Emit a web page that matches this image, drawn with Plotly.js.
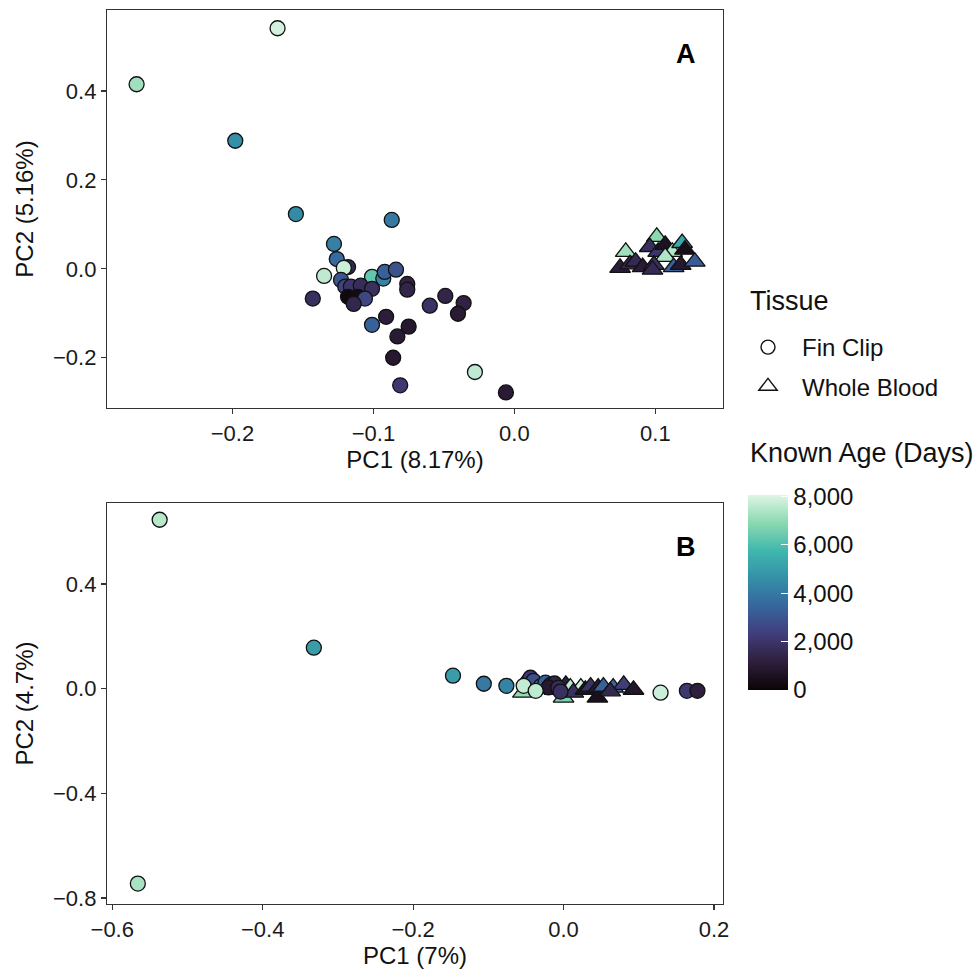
<!DOCTYPE html>
<html>
<head>
<meta charset="utf-8">
<script src="https://cdn.plot.ly/plotly-3.0.1.min.js"></script>
<style>html,body{margin:0;padding:0;background:#fff;}#chart{width:977px;height:969px;}</style>
</head>
<body>
<div id="chart"></div>
<script>
// ---------- Panel A data (PC1 8.17%, PC2 5.16%) ----------
const aFinPC1 = [-0.268,-0.168,-0.198,-0.155,-0.087,-0.128,-0.126,-0.135,-0.118,-0.121,-0.101,-0.093,-0.092,-0.084,-0.123,-0.120,-0.116,-0.109,-0.101,-0.076,-0.076,-0.143,-0.118,-0.111,-0.106,-0.114,-0.049,-0.060,-0.036,-0.040,-0.101,-0.091,-0.075,-0.083,-0.086,-0.081,-0.028,-0.006];
const aFinPC2 = [0.415,0.541,0.288,0.123,0.110,0.056,0.022,-0.016,0.004,0.002,-0.018,-0.022,-0.007,-0.002,-0.025,-0.040,-0.040,-0.038,-0.045,-0.034,-0.047,-0.067,-0.063,-0.063,-0.067,-0.079,-0.061,-0.083,-0.077,-0.101,-0.126,-0.108,-0.130,-0.152,-0.200,-0.262,-0.232,-0.278];
const aFinAge = [7200,7900,4600,4500,4000,4200,3600,7600,1500,7800,6300,4300,3300,2900,3000,2500,2000,1700,1800,1300,1400,1800,200,300,2600,1500,1400,1900,1300,1000,3300,1100,900,1000,900,2100,7600,1000];

const aWbPC1 = [0.079,0.075,0.082,0.086,0.101,0.096,0.102,0.107,0.112,0.119,0.121,0.107,0.091,0.099,0.098,0.113,0.118,0.128];
const aWbPC2 = [0.038,0.002,0.010,0.016,0.072,0.049,0.038,0.054,0.038,0.058,0.043,0.027,0.004,0.009,-0.002,0.004,0.009,0.016];
const aWbAge = [7200,1100,1500,1600,6900,1800,2000,600,7500,5300,400,7400,1000,1800,1600,3300,900,3200];

// ---------- Panel B data (PC1 7%, PC2 4.7%) ----------
const bFinPC1 = [-0.537,-0.566,-0.332,-0.147,-0.106,-0.076,-0.048,-0.044,-0.040,-0.030,-0.024,-0.017,-0.012,-0.020,-0.007,-0.004,-0.053,-0.037,0.129,0.164,0.178];
const bFinPC2 = [0.646,-0.745,0.157,0.050,0.019,0.011,0.025,0.042,0.030,0.010,0.023,0.015,0.020,0.005,0.004,-0.011,0.011,-0.008,-0.015,-0.008,-0.008];
const bFinAge = [7500,7300,5000,5000,4000,4300,2600,2200,2800,3500,3300,3000,1500,900,1600,1800,7700,7600,7800,2100,1200];

const bWbPC1 = [-0.054,0.000,0.003,-0.012,0.009,0.023,0.013,0.029,0.036,0.046,0.045,0.053,0.066,0.080,0.062,0.093];
const bWbPC2 = [-0.015,-0.034,0.015,-0.004,0.004,0.004,-0.015,-0.004,0.008,0.004,-0.034,0.008,0.004,0.015,-0.010,-0.004];
const bWbAge = [7000,6600,1200,1700,7600,7800,1800,600,1900,900,500,3300,3500,2300,1500,800];

const tissueNames = ["Fin Clip", "Whole Blood"];
const ageTicks = [0, 2000, 4000, 6000, 8000];

const mako = [
  [0.0, "#0B0405"], [1/7, "#2E1E3B"], [2/7, "#413D7B"], [3/7, "#37659E"],
  [4/7, "#348FA7"], [5/7, "#40B7AD"], [6/7, "#8AD9B1"], [1.0, "#DEF5E5"]
];
const CMIN = 0, CMAX = 8050;
const FONT = "Liberation Sans, Arial, Helvetica, sans-serif";
const TXT = "#111";

// plot area in pixels: x 107..723, y 10..904
const PL = 107, PW = 616, PT = 10, PH = 894;
const px2x = p => (p - PL) / PW;
const px2y = p => 1 - (p - PT) / PH;

function pts(x, y, age, sym, size, xa, ya, scale) {
  const m = {
    symbol: sym, size: size, color: age, colorscale: mako, cmin: CMIN, cmax: CMAX,
    line: {color: "#111", width: 1.3}, opacity: 1, showscale: !!scale
  };
  if (scale) {
    m.colorbar = {
      tickvals: ageTicks, tickformat: ",", tickprefix: "\u00a0",
      ticks: "inside", ticklen: 7, tickcolor: "#fff", tickwidth: 1,
      tickfont: {family: FONT, size: 24, color: TXT},
      thicknessmode: "pixels", thickness: 40, lenmode: "pixels", len: 195,
      x: px2x(748), xanchor: "left", y: px2y(495), yanchor: "top",
      xpad: 0, ypad: 0, outlinewidth: 0
    };
  }
  return {type: "scatter", mode: "markers", x: x, y: y, xaxis: xa, yaxis: ya,
          marker: m, showlegend: false, hoverinfo: "skip"};
}

const traces = [
  pts(aFinPC1, aFinPC2, aFinAge, "circle", 15, "x", "y", false),
  pts(aWbPC1, aWbPC2, aWbAge, "triangle-up", 18, "x", "y", false),
  pts(bWbPC1, bWbPC2, bWbAge, "triangle-up", 18, "x2", "y2", false),
  pts(bFinPC1, bFinPC2, bFinAge, "circle", 15, "x2", "y2", true),
  {type: "scatter", mode: "markers", x: [null], y: [null], name: tissueNames[0], legendgroup: "g1",
   marker: {symbol: "circle", size: 14, color: "#fff", line: {color: "#111", width: 1.4}}, showlegend: true},
  {type: "scatter", mode: "markers", x: [null], y: [null], name: tissueNames[1], legendgroup: "g2",
   marker: {symbol: "triangle-up", size: 18, color: "#fff", line: {color: "#111", width: 1.4}}, showlegend: true}
];

const axBase = {
  showline: true, mirror: true, linecolor: "#333", linewidth: 1.2,
  ticks: "outside", ticklen: 5, tickcolor: "#333", tickwidth: 1.2,
  showgrid: false, zeroline: false, tickformat: ".1f",
  tickfont: {family: FONT, size: 22, color: "#1a1a1a"}, automargin: false
};
function ax(extra) { return Object.assign({}, axBase, extra); }
const titleFont = {family: FONT, size: 24, color: TXT};

const layout = {
  width: 977, height: 969,
  margin: {l: PL, r: 977 - PL - PW, t: PT, b: 969 - PT - PH},
  paper_bgcolor: "#fff", plot_bgcolor: "#fff",
  font: {family: FONT},
  xaxis: ax({domain: [0, 1], anchor: "y", range: [-0.289, 0.148], tickvals: [-0.2, -0.1, 0.0, 0.1],
             title: {text: "PC1 (8.17%)", font: titleFont, standoff: 6}}),
  yaxis: ax({domain: [px2y(408), 1], anchor: "x", range: [-0.313, 0.582], tickvals: [-0.2, 0.0, 0.2, 0.4],
             title: {text: "PC2 (5.16%)", font: titleFont, standoff: 12}}),
  xaxis2: ax({domain: [0, 1], anchor: "y2", range: [-0.607, 0.212], tickvals: [-0.6, -0.4, -0.2, 0.0, 0.2],
              title: {text: "PC1 (7%)", font: titleFont, standoff: 4}}),
  yaxis2: ax({domain: [0, px2y(503)], anchor: "x2", range: [-0.823, 0.71], tickvals: [-0.8, -0.4, 0.0, 0.4],
              title: {text: "PC2 (4.7%)", font: titleFont, standoff: 12}}),
  legend: {
    font: {family: FONT, size: 24, color: TXT},
    x: px2x(734), xanchor: "left", y: px2y(325), yanchor: "top",
    traceorder: "grouped", tracegroupgap: 5, bgcolor: "rgba(0,0,0,0)", borderwidth: 0,
    itemsizing: "trace", itemwidth: 58
  },
  annotations: [
    {text: "Tissue", xref: "paper", yref: "paper", x: px2x(748), y: px2y(301), xanchor: "left", yanchor: "middle",
     showarrow: false, font: {family: FONT, size: 27, color: TXT}},
    {text: "Known Age (Days)", xref: "paper", yref: "paper", x: px2x(748), y: px2y(453), xanchor: "left", yanchor: "middle",
     showarrow: false, font: {family: FONT, size: 27, color: TXT}},
    {text: "<b>A</b>", xref: "x domain", yref: "y domain", x: (686 - PL) / PW, y: (408 - 54) / 398,
     xanchor: "center", yanchor: "middle", showarrow: false, font: {family: FONT, size: 27, color: "#000"}},
    {text: "<b>B</b>", xref: "x2 domain", yref: "y2 domain", x: (686 - PL) / PW, y: (904 - 547) / 401,
     xanchor: "center", yanchor: "middle", showarrow: false, font: {family: FONT, size: 27, color: "#000"}}
  ],
  showlegend: true
};

Plotly.newPlot("chart", traces, layout, {displayModeBar: false, staticPlot: true});
</script>
</body>
</html>
